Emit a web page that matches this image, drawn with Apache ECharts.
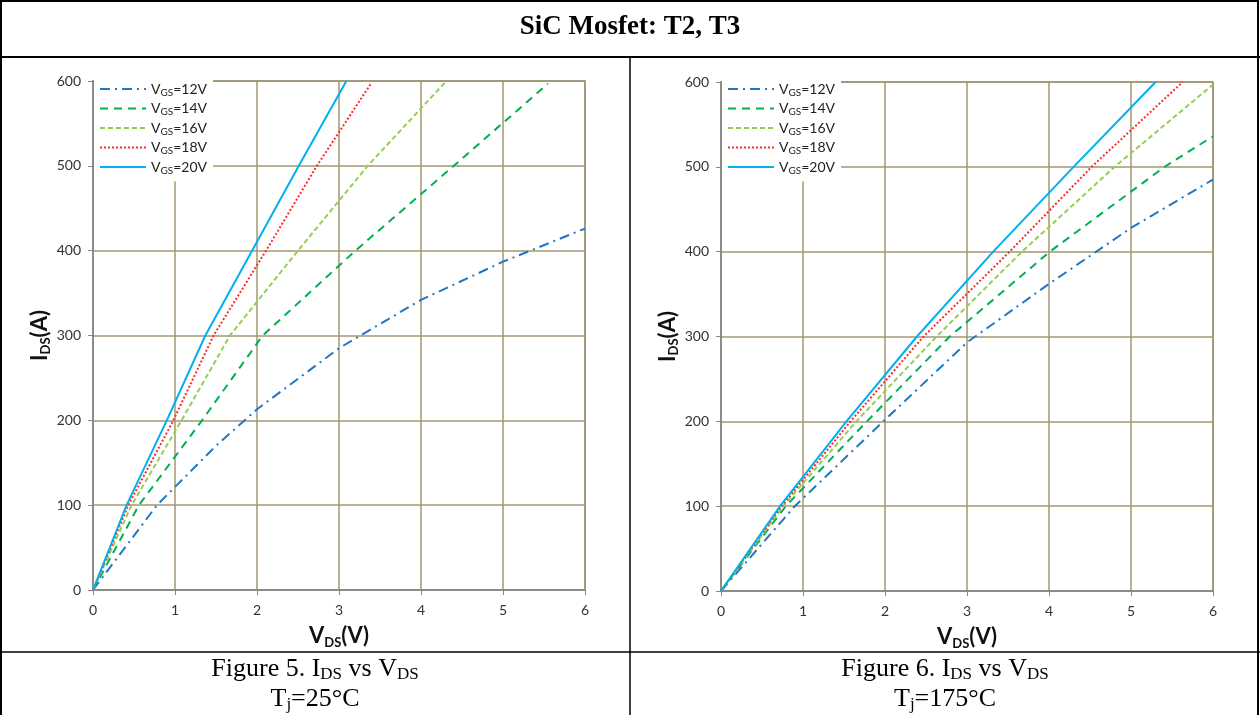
<!DOCTYPE html>
<html>
<head>
<meta charset="utf-8">
<title>SiC Mosfet: T2, T3</title>
<script src="https://cdn.jsdelivr.net/npm/echarts@6/dist/echarts.min.js"></script>
<style>
    html, body { margin: 0; padding: 0; background: #fff; }
    #chart { width: 1260px; height: 715px; }
</style>
</head>
<body>
<div id="chart"></div>
<script>
// 曲线名称 (VGS)
var vgsNames = ['VGS=12V', 'VGS=14V', 'VGS=16V', 'VGS=18V', 'VGS=20V'];

// Figure 5, Tj=25°C : [VDS, IDS]
var t25Vgs12 = [[0, 0], [0.78, 100], [1.5, 170], [2, 213], [3, 285], [4, 342], [5, 387], [6, 426]];
var t25Vgs14 = [[0, 0], [0.56, 100], [1.33, 200], [2.07, 300], [3.2, 400], [4.4, 500], [5.55, 597]];
var t25Vgs16 = [[0, 0], [0.47, 100], [1.08, 200], [1.67, 300], [2.5, 400], [3.35, 500], [4.29, 598]];
var t25Vgs18 = [[0, 0], [0.43, 100], [0.98, 200], [1.47, 300], [2.11, 400], [2.73, 500], [3.39, 597]];
var t25Vgs20 = [[0, 0], [0.41, 100], [0.9, 200], [1.37, 300], [1.94, 400], [2.51, 500], [3.09, 600]];

// Figure 6, Tj=175°C : [VDS, IDS]
var t175Vgs12 = [[0, 0], [0.9, 100], [1.98, 200], [3, 293], [4, 362], [5, 428], [6, 485]];
var t175Vgs14 = [[0, 0], [0.79, 100], [1.78, 200], [2.79, 300], [4.01, 400], [5.41, 500], [6, 536]];
var t175Vgs16 = [[0, 0], [0.76, 100], [1.65, 200], [2.63, 300], [3.67, 400], [4.8, 500], [6, 597]];
var t175Vgs18 = [[0, 0], [0.74, 100], [1.58, 200], [2.47, 300], [3.52, 400], [4.52, 500], [5.63, 600]];
var t175Vgs20 = [[0, 0], [0.72, 100], [1.53, 200], [2.39, 300], [3.32, 400], [4.3, 500], [5.3, 600]];

// 坐标轴
var xMin = 0, xMax = 6, xStep = 1;
var yMin = 0, yMax = 600, yStep = 100;

var lineColors = ['#1e78c6', '#00b050', '#92d050', '#ff2a2a', '#00b0f0'];
var lineTypes = [[10, 5, 2, 5], [8, 6], [5, 3], [2, 2], 'solid'];

var uiFont = 'Lato';
var serifFont = 'Liberation Serif';

function makeSeries(dataList, axisIndex) {
    var list = [], i;
    for (i = 0; i < dataList.length; i++) {
        list.push({
            name: vgsNames[i],
            type: 'line',
            xAxisIndex: axisIndex,
            yAxisIndex: axisIndex,
            symbol: 'none',
            showSymbol: false,
            smooth: false,
            lineStyle: {
                color: lineColors[i],
                width: 2,
                type: lineTypes[i]
            },
            itemStyle: { color: lineColors[i] },
            z: 3 + i,
            data: dataList[i]
        });
    }
    return list;
}

var axisNameRich = {
    b: { fontFamily: uiFont, fontSize: 22, fontWeight: 'bold', color: '#111', lineHeight: 26 },
    s: { fontFamily: uiFont, fontSize: 13, fontWeight: 'bold', color: '#111', lineHeight: 26, verticalAlign: 'bottom' }
};

function makeXAxis(gridIndex) {
    return {
        type: 'value',
        gridIndex: gridIndex,
        min: xMin,
        max: xMax,
        interval: xStep,
        name: '{b|V}{s|DS}{b|(V)}',
        nameLocation: 'middle',
        nameGap: 33,
        nameTextStyle: { rich: axisNameRich },
        axisLine: { show: true, lineStyle: { color: '#868686', width: 1.5 } },
        axisTick: { show: true, length: 5, lineStyle: { color: '#868686' } },
        axisLabel: { fontFamily: uiFont, fontSize: 14, color: '#333', margin: 13 },
        splitLine: { show: true, lineStyle: { color: '#a39770', width: 1.5 } }
    };
}

function makeYAxis(gridIndex) {
    return {
        type: 'value',
        gridIndex: gridIndex,
        min: yMin,
        max: yMax,
        interval: yStep,
        name: '{b|I}{s|DS}{b|(A)}',
        nameLocation: 'middle',
        nameRotate: 90,
        nameGap: 37,
        nameTextStyle: { rich: axisNameRich },
        axisLine: { show: true, lineStyle: { color: '#868686', width: 1.5 } },
        axisTick: { show: true, length: 5, lineStyle: { color: '#868686' } },
        axisLabel: { fontFamily: uiFont, fontSize: 14, color: '#333', margin: 12 },
        splitLine: { show: true, lineStyle: { color: '#a39770', width: 1.5 } }
    };
}

function makeLegend(left) {
    return {
        orient: 'vertical',
        left: left,
        top: 80,
        padding: [2, 6, 6, 5],
        backgroundColor: '#fff',
        itemWidth: 46,
        itemHeight: 12,
        itemGap: 4,
        itemStyle: { opacity: 0 },
        data: vgsNames,
        formatter: function(name) {
            return '{a|V}{s|GS}{a|' + name.slice(3) + '}';
        },
        textStyle: {
            rich: {
                a: { fontFamily: uiFont, fontSize: 14, color: '#222', lineHeight: 17 },
                s: { fontFamily: uiFont, fontSize: 10, color: '#222', lineHeight: 17, verticalAlign: 'bottom' }
            }
        }
    };
}

function makeCaption(text, left, top) {
    return {
        text: text,
        left: left,
        top: top,
        textAlign: 'center',
        padding: 0,
        textStyle: {
            rich: {
                m: { fontFamily: serifFont, fontSize: 26, fontWeight: 'normal', color: '#000', lineHeight: 28 },
                s: { fontFamily: serifFont, fontSize: 17, fontWeight: 'normal', color: '#000', lineHeight: 28, verticalAlign: 'bottom' }
            }
        }
    };
}

var chart = echarts.init(document.getElementById('chart'));

var option = {
    backgroundColor: '#fff',
    animation: false,
    title: [
        {
            text: 'SiC Mosfet: T2, T3',
            left: 630,
            top: 14,
            textAlign: 'center',
            padding: 0,
            textStyle: { fontFamily: serifFont, fontSize: 27, fontWeight: 'bold', color: '#000' }
        },
        makeCaption('{m|Figure 5. I}{s|DS}{m| vs V}{s|DS}', 315, 655),
        makeCaption('{m|T}{s|j}{m|=25°C}', 315, 685),
        makeCaption('{m|Figure 6. I}{s|DS}{m| vs V}{s|DS}', 945, 655),
        makeCaption('{m|T}{s|j}{m|=175°C}', 945, 685)
    ],
    legend: [makeLegend(94), makeLegend(722)],
    grid: [
        { left: 93, top: 81, width: 492, height: 509, show: true, borderColor: '#868686', borderWidth: 1.5, backgroundColor: 'transparent' },
        { left: 721, top: 82, width: 492, height: 509, show: true, borderColor: '#868686', borderWidth: 1.5, backgroundColor: 'transparent' }
    ],
    xAxis: [makeXAxis(0), makeXAxis(1)],
    yAxis: [makeYAxis(0), makeYAxis(1)],
    series: makeSeries([t25Vgs12, t25Vgs14, t25Vgs16, t25Vgs18, t25Vgs20], 0)
        .concat(makeSeries([t175Vgs12, t175Vgs14, t175Vgs16, t175Vgs18, t175Vgs20], 1)),
    // 表格边框
    graphic: [
        { type: 'rect', shape: { x: 1, y: 1, width: 1257, height: 730 }, style: { fill: 'none', stroke: '#000', lineWidth: 2 }, silent: true },
        { type: 'line', shape: { x1: 0, y1: 57, x2: 1260, y2: 57 }, style: { stroke: '#000', lineWidth: 2 }, silent: true },
        { type: 'line', shape: { x1: 630, y1: 57, x2: 630, y2: 715 }, style: { stroke: '#000', lineWidth: 1.5 }, silent: true },
        { type: 'line', shape: { x1: 0, y1: 652, x2: 1260, y2: 652 }, style: { stroke: '#000', lineWidth: 1.5 }, silent: true }
    ]
};

chart.setOption(option);
</script>
</body>
</html>
